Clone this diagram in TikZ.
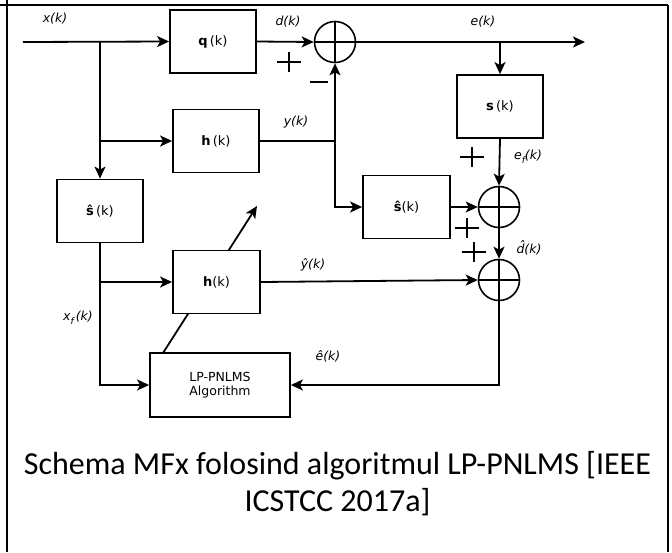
\documentclass[tikz,border=0pt]{standalone}
\usepackage{fontspec}
\setmainfont{DejaVu Sans}
\newfontfamily\capfont{Carlito}
\usetikzlibrary{arrows.meta}
\newcommand\myhatd{\setbox0\hbox{d}\rlap{d}\raisebox{2.5pt}{\makebox[\wd0]{\kern2.5pt\char"02C6}}}
\tikzset{
  box/.style={draw, line width=1.8pt, fill=white, minimum width=86pt, minimum height=63pt, inner sep=0pt, font=\fontsize{13}{15}\selectfont},
  sumnode/.style={draw, circle, line width=1.6pt, minimum size=41pt, inner sep=0pt},
  conn/.style={line width=1.8pt},
  arr/.style={conn, -{Stealth[length=12pt,width=11pt,inset=3pt]}},
  lbl/.style={font=\fontsize{12.5}{14}\selectfont\itshape, inner sep=0pt},
  frameline/.style={line width=2.5pt},
  signline/.style={line width=1.5pt},
  plussign/.pic={\draw[signline] (-12,0)--(12,0) (0,-10)--(0,10);},
  minussign/.pic={\draw[signline] (-9,0)--(9,0);},
  captext/.style={font=\capfont\fontsize{32}{37}\selectfont, anchor=base, inner sep=0pt}
}
\begin{document}
\begin{tikzpicture}[x=1pt,y=-1pt]
\useasboundingbox (0,0) rectangle (672,552);
% frame
\draw[frameline] (0,5) -- (668,5);
\draw[frameline] (7,0) -- (7,552);
\draw[frameline] (668,5) -- (668,552);

% diagonal adaptation arrow (behind h2 box)
\coordinate (dstart) at (163,353);
\coordinate (dend) at (257,206);
\draw[arr] (dstart) -- (dend);

% blocks
\node[box] (q) at (213,41.5) {\textbf{q}\,(k)};
\node[box] (s) at (500,106.5) {\textbf{s}\,(k)};
\node[box] (h1) at (216,141) {\textbf{h}\,(k)};
\node[box] (sh1) at (100,211) {\textbf{ŝ}\,(k)};
\node[box, minimum width=87pt] (sh2) at (406.5,207) {\textbf{ŝ}(k)};
\node[box, minimum width=87pt] (h2) at (216.5,282) {\textbf{h}(k)};
\node[box, minimum width=140pt, minimum height=64pt, align=center, font=\fontsize{12.5}{14.5}\selectfont] (lp) at (220,385) {LP-PNLMS\\Algorithm};

% summing junctions
\node[sumnode] (sum1) at (335,42) {};
\node[sumnode] (sum2) at (499,207) {};
\node[sumnode] (sum3) at (499,280) {};
\foreach \n in {sum1,sum2,sum3}{
  \draw[line width=1.4pt] (\n.north) -- (\n.south) (\n.west) -- (\n.east);
}

% coordinates
\coordinate (xin) at (23,42);
\coordinate (eout) at (585,42);
\coordinate (j1) at (335,141);

% connectors
\draw[arr] (xin) -- (q.west);
\draw[arr] (q.east) -- (sum1.west);
\draw[arr] (sum1.east) -- (eout);
\draw[arr] (s.north |- sum1.east) -- (s.north);
\draw[arr] (s.south) -- (sum2.north);
\draw[arr] (sh2.east) -- (sum2.west);
\draw[arr] (sum2.south) -- (sum3.north);
\draw[arr] (h2.east) -- (sum3.west);
\draw[arr] (sum3.south) |- (lp.east);
\draw[conn] (h1.east) -- (j1);
\draw[arr] (j1) -- (sum1.south);
\draw[arr] (j1) |- (sh2.west);
\draw[arr] (sh1.north |- q.west) -- (sh1.north);
\draw[arr] (sh1.north |- h1.west) -- (h1.west);
\draw[arr] (sh1.south) |- (lp.west);
\draw[arr] (sh1.south |- h2.west) -- (h2.west);

% signs
\pic at (289,62) {plussign};
\pic at (319,82) {minussign};
\pic at (472,157) {plussign};
\pic at (467,228) {plussign};
\pic at (474,252) {plussign};

% labels
\node[lbl] (lx) at (55,19) {x(k)};
\node[lbl] (ld) at (288,22) {d(k)};
\node[lbl] (le) at (483,22) {e(k)};
\node[lbl] (ly) at (296,122) {y(k)};
\node[lbl] (lef) at (528,157) {e\raisebox{-4pt}{\fontsize{9}{9}\selectfont f}(k)};
\node[lbl] (lyh) at (313,265) {ŷ(k)};
\node[lbl] (ldh) at (529,248) {\myhatd(k)};
\node[lbl] (leh) at (328,356) {ê(k)};
\node[lbl] (lxf) at (78,318) {x\raisebox{-4pt}{\fontsize{9}{9}\selectfont f}\,(k)};

% caption
\node[captext] (cap1) at (337.5,474) {Schema MFx folosind algoritmul LP-PNLMS [IEEE};
\node[captext] (cap2) at (337.5,511) {ICSTCC 2017a]};
\end{tikzpicture}
\end{document}
